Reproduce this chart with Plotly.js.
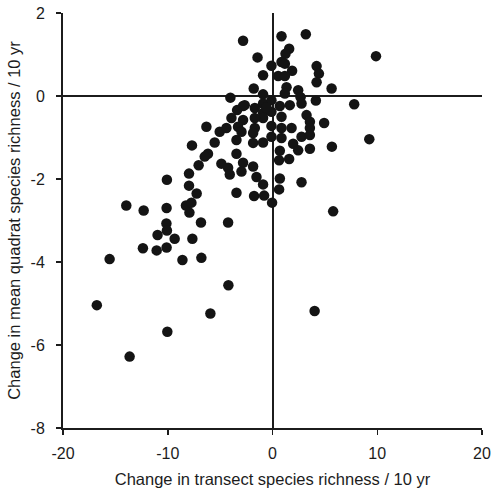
<!DOCTYPE html>
<html>
<head>
<meta charset="utf-8">
<script src="https://cdn.plot.ly/plotly-3.0.1.min.js"></script>
<style>html,body{margin:0;padding:0;background:#fff;}#chart{width:491px;height:489px;}</style>
</head>
<body>
<div id="chart"></div>
<script>
// Change in transect species richness / 10 yr
var transectChange = [
 -2.81,-4.02,-3.38,-2.81,-3.92,-6.31,-5.04,-4.40,-5.52,-3.44,
 -2.81,-3.29,-2.96,-7.69,-6.16,-6.47,-7.05,-4.88,-4.24,-4.08,
 -3.44,-2.81,-2.96,-7.97,-7.97,-7.24,-10.08,-3.44,-8.26,-7.74,
 -7.93,-13.96,-12.30,-10.11,-10.13,-10.08,-10.97,-9.34,-6.83,-4.24,
 -7.65,-12.37,-11.06,-10.11,-15.55,-8.60,-6.79,-4.21,-16.77,-5.93,
 -10.04,-13.64,4.02,0.86,3.18,9.88,1.59,1.24,-1.43,-0.10,
 0.86,1.18,1.87,-0.90,0.54,1.18,4.21,4.43,4.21,-1.79,
 1.34,2.45,5.64,-0.90,1.18,2.68,4.14,7.80,-2.65,-1.69,
 -0.90,-0.10,0.70,1.65,2.77,-0.90,-0.10,-0.90,0.86,3.25,
 3.57,4.93,-1.69,-0.10,0.86,1.82,3.57,-1.85,-0.10,0.86,
 2.77,3.57,9.24,-1.85,-0.90,1.97,2.45,3.57,5.67,0.70,
 0.63,1.59,-1.85,-1.53,-0.90,0.70,2.77,0.63,-1.76,-0.80,
 -0.04,5.79,-1.69,-0.60
];
// Change in mean quadrat species richness / 10 yr
var quadratChange = [
 1.33,-0.04,-0.34,-0.24,-0.53,-0.74,-0.86,-0.77,-1.12,-1.06,
 -0.58,-0.74,-0.86,-1.19,-1.39,-1.46,-1.67,-1.63,-1.73,-1.89,
 -1.39,-1.61,-1.82,-1.87,-2.16,-2.35,-2.02,-2.33,-2.64,-2.57,
 -2.81,-2.64,-2.76,-2.70,-3.07,-3.24,-3.35,-3.44,-3.05,-3.05,
 -3.44,-3.67,-3.72,-3.65,-3.93,-3.95,-3.90,-4.56,-5.04,-5.24,
 -5.68,-6.28,-5.18,1.44,1.49,0.96,1.14,1.02,0.93,0.73,
 0.82,0.78,0.61,0.50,0.48,0.48,0.72,0.54,0.33,0.18,
 0.21,0.14,0.18,0.04,0.06,-0.03,-0.11,-0.20,-0.22,-0.29,
 -0.18,-0.10,-0.24,-0.22,-0.18,-0.41,-0.38,-0.53,-0.50,-0.46,
 -0.62,-0.65,-0.77,-0.72,-0.77,-0.77,-0.77,-0.89,-0.98,-1.01,
 -0.98,-0.94,-1.04,-1.13,-1.12,-1.15,-1.31,-1.27,-1.22,-1.32,
 -1.55,-1.52,-1.70,-1.95,-2.13,-1.99,-2.08,-2.25,-2.41,-2.40,
 -2.57,-2.78,-0.53,-0.27
];
var xTickVals = [-20, -10, 0, 10, 20];
var xTickText = ['-20', '-10', '0', '10', '20'];
var yTickVals = [-8, -6, -4, -2, 0, 2];
var yTickText = ['-8', '-6', '-4', '-2', '0', '2'];
var xTitle = 'Change in transect species richness / 10 yr';
var yTitle = 'Change in mean quadrat species richness / 10 yr';

var font = 'Arial, "Liberation Sans", sans-serif';
var ink = '#1c1c1c';
var trace = {
  x: transectChange, y: quadratChange,
  type: 'scatter', mode: 'markers',
  marker: {size: 10.5, color: '#141414', line: {width: 0}},
  hoverinfo: 'skip', cliponaxis: false
};
var layout = {
  width: 491, height: 489,
  margin: {l: 63, r: 9, t: 13, b: 61, pad: 0},
  paper_bgcolor: '#fff', plot_bgcolor: '#fff',
  showlegend: false,
  font: {family: font, size: 16, color: ink},
  xaxis: {
    range: [-20, 20], tickvals: xTickVals, ticktext: xTickText,
    showgrid: false, zeroline: true, zerolinecolor: ink, zerolinewidth: 2,
    showline: true, linecolor: ink, linewidth: 2,
    ticks: 'outside', ticklen: 5, tickwidth: 1.5, tickcolor: ink,
    ticklabelstandoff: 5,
    tickfont: {family: font, size: 16, color: ink},
    title: {text: xTitle, font: {family: font, size: 16.5, color: ink}, standoff: 12},
    automargin: false
  },
  yaxis: {
    range: [-8, 2], tickvals: yTickVals, ticktext: yTickText,
    showgrid: false, zeroline: true, zerolinecolor: ink, zerolinewidth: 2,
    showline: true, linecolor: ink, linewidth: 2,
    ticks: 'outside', ticklen: 5, tickwidth: 1.5, tickcolor: ink,
    ticklabelstandoff: 8,
    tickfont: {family: font, size: 16, color: ink},
    title: {text: yTitle, font: {family: font, size: 16.5, color: ink}, standoff: 6},
    automargin: false
  }
};
Plotly.newPlot('chart', [trace], layout, {displayModeBar: false, staticPlot: true});
</script>
</body>
</html>
